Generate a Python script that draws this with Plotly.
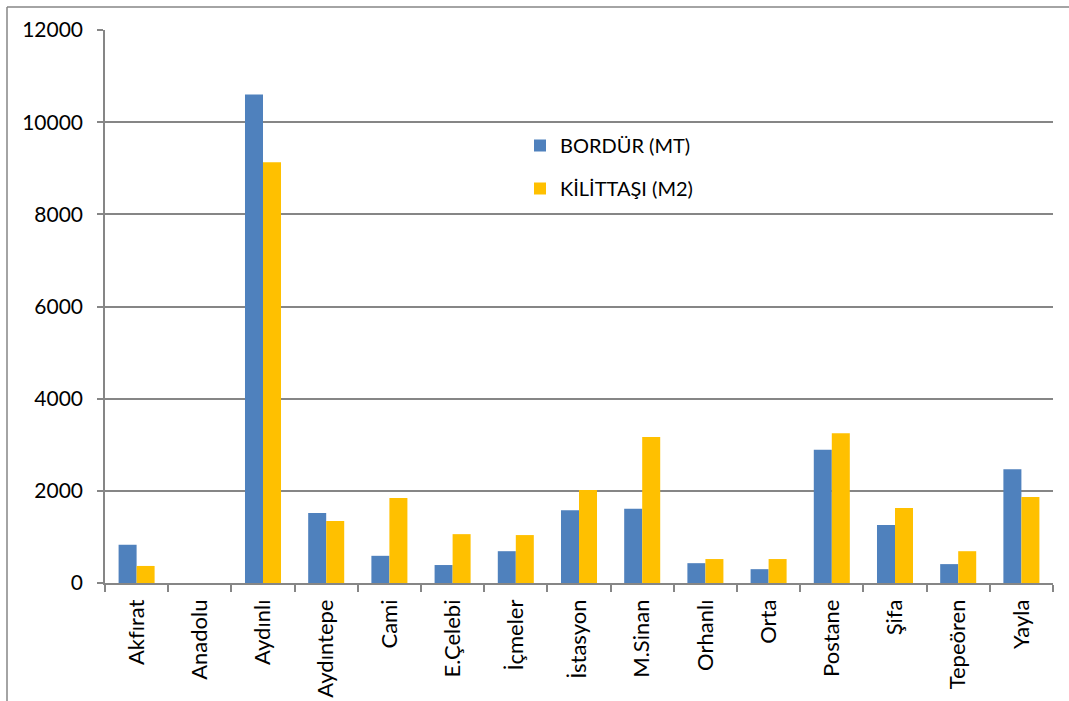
import plotly.graph_objects as go

categories = ["Akf\u200cırat", "Anadolu", "Aydınlı", "Aydıntepe", "Cami", "E.Çelebi",
              "İçmeler", "İstasyon", "M.Sinan", "Orhanlı", "Orta", "Postane",
              "Şifa", "Tepeören", "Yayla"]
bordur = [830, 0, 10600, 1520, 590, 390, 690, 1580, 1610, 430, 300, 2890, 1260, 410, 2470]
kilittasi = [370, 0, 9130, 1345, 1845, 1060, 1040, 2020, 3170, 520, 520, 3250, 1625, 690, 1865]
series_names = ["BORDÜR (MT)", "KİLİTTAŞI (M2)"]

FONT = "Lato"
W, H = 1069, 701
L, R, T, B = 105, 16, 30, 118
pw, ph = W - L - R, H - T - B

fig = go.Figure()
fig.add_trace(go.Bar(x=categories, y=bordur, name=series_names[0],
                     marker=dict(color="#4F81BD", line=dict(width=0)),
                     legendgroup="a"))
fig.add_trace(go.Bar(x=categories, y=kilittasi, name=series_names[1],
                     marker=dict(color="#FFC000", line=dict(width=0)),
                     legendgroup="b"))

fx = lambda px: (px - L) / pw
fy = lambda py: (H - B - py) / ph

fig.update_layout(
    width=W, height=H,
    margin=dict(l=L, r=R, t=T, b=B, pad=0, autoexpand=False),
    paper_bgcolor="white", plot_bgcolor="white",
    barmode="group", bargap=0.43, bargroupgap=0,
    font=dict(family=FONT, size=21, color="black"),
    showlegend=True,
    legend=dict(x=fx(520), y=fy(126), xanchor="left", yanchor="top",
                font=dict(family=FONT, size=20, color="black"),
                bgcolor="rgba(0,0,0,0)", tracegroupgap=14, itemwidth=30),
    xaxis=dict(type="category", showline=True, linecolor="#868686", linewidth=1.5,
               ticks="outside", tickson="boundaries", ticklen=7, tickcolor="#868686",
               tickwidth=1.5, tickangle=-90, showgrid=False, ticklabelstandoff=6,
               automargin=False,
               tickfont=dict(family=FONT, size=22, color="black")),
    yaxis=dict(range=[0, 12000], dtick=2000, tickformat="d", showline=True,
               linecolor="#868686", linewidth=1.5, ticks="outside", ticklen=6,
               tickcolor="#868686", tickwidth=1.5, showgrid=True, gridcolor="#868686",
               gridwidth=1.5, zeroline=False, ticklabelstandoff=10, automargin=False,
               tickfont=dict(family=FONT, size=21, color="black")),
    shapes=[
        dict(type="line", xref="paper", yref="paper", x0=fx(7), x1=fx(1075),
             y0=fy(7), y1=fy(7), line=dict(color="#868686", width=1.5)),
        dict(type="line", xref="paper", yref="paper", x0=fx(7), x1=fx(7),
             y0=fy(7), y1=fy(710), line=dict(color="#868686", width=1.5)),
    ],
)

fig.write_html("out.html", config={"displayModeBar": False},
               post_script="document.body.style.margin='0px';")
